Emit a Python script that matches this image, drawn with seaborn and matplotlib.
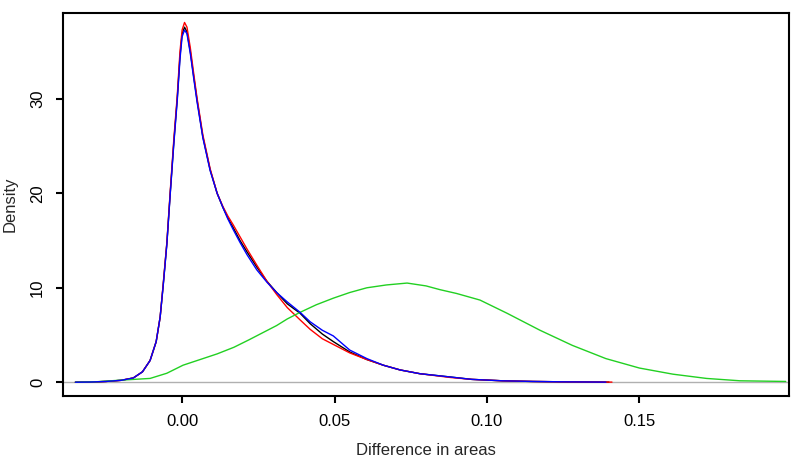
import pandas as pd
import matplotlib
matplotlib.use("Agg")
import matplotlib.pyplot as plt
import seaborn as sns

# density curves (x = difference in areas, y = density)
x_black = [-0.035, -0.030, -0.025, -0.020, -0.016, -0.013, -0.0105, -0.0085, -0.0072, -0.0062,
           -0.005, -0.0039, -0.0027, -0.0016, -0.0007, 0.0, 0.0008, 0.0016, 0.0027, 0.0038,
           0.0049, 0.0068, 0.0092, 0.0115, 0.0134, 0.0150, 0.0167, 0.019, 0.0213, 0.0245,
           0.0278, 0.031, 0.0345, 0.0387, 0.042, 0.046, 0.0496, 0.055, 0.0606, 0.066,
           0.0715, 0.078, 0.088, 0.095, 0.105, 0.115, 0.125, 0.140]
y_black = [0.0, 0.02, 0.08, 0.2, 0.45, 1.1, 2.3, 4.3, 6.9, 10.3,
           14.7, 20.0, 25.5, 30.0, 34.5, 36.9, 37.6, 37.1, 35.0, 32.4,
           29.9, 26.0, 22.5, 20.0, 18.5, 17.4, 16.4, 15.0, 13.8, 12.2,
           10.7, 9.5, 8.3, 7.3, 6.2, 5.1, 4.3, 3.2, 2.4, 1.8,
           1.3, 0.9, 0.55, 0.3, 0.15, 0.08, 0.04, 0.01]

x_red = [-0.035, -0.030, -0.025, -0.020, -0.016, -0.013, -0.0105, -0.0085, -0.0072, -0.0062,
         -0.005, -0.0039, -0.0027, -0.0016, -0.0007, 0.0, 0.0008, 0.0016, 0.0027, 0.0038,
         0.0049, 0.0068, 0.0092, 0.0115, 0.0134, 0.0150, 0.0167, 0.019, 0.0213, 0.0245,
         0.0278, 0.031, 0.0345, 0.0387, 0.042, 0.046, 0.0496, 0.055, 0.0606, 0.066,
         0.0715, 0.078, 0.088, 0.095, 0.105, 0.115, 0.125, 0.141]
y_red = [0.0, 0.02, 0.08, 0.2, 0.45, 1.1, 2.3, 4.3, 6.9, 10.4,
         14.8, 20.2, 25.8, 30.3, 35.0, 37.3, 38.1, 37.6, 35.4, 32.7,
         30.1, 26.2, 22.6, 20.0, 18.6, 17.6, 16.7, 15.4, 14.1, 12.4,
         10.7, 9.3, 7.9, 6.6, 5.6, 4.6, 4.0, 3.1, 2.4, 1.8,
         1.3, 0.9, 0.5, 0.3, 0.15, 0.08, 0.04, 0.01]

x_blue = [-0.035, -0.030, -0.025, -0.020, -0.016, -0.013, -0.0105, -0.0085, -0.0072, -0.0062,
          -0.005, -0.0039, -0.0027, -0.0016, -0.0007, 0.0, 0.0008, 0.0016, 0.0027, 0.0038,
          0.0049, 0.0068, 0.0092, 0.0115, 0.0134, 0.0150, 0.0167, 0.019, 0.0213, 0.0245,
          0.0278, 0.031, 0.0345, 0.0387, 0.042, 0.046, 0.0496, 0.055, 0.0606, 0.066,
          0.0715, 0.078, 0.088, 0.095, 0.105, 0.115, 0.125, 0.139]
y_blue = [0.0, 0.02, 0.08, 0.2, 0.45, 1.1, 2.3, 4.3, 6.9, 10.2,
          14.6, 19.9, 25.3, 29.8, 34.2, 36.6, 37.3, 36.9, 34.8, 32.2,
          29.7, 25.9, 22.4, 20.0, 18.5, 17.3, 16.2, 14.8, 13.5, 11.9,
          10.6, 9.5, 8.5, 7.4, 6.4, 5.5, 4.9, 3.4, 2.5, 1.8,
          1.3, 0.9, 0.55, 0.3, 0.15, 0.08, 0.04, 0.01]

x_green = [-0.035, -0.028, -0.021, -0.0105, -0.005, 0.0003, 0.0059, 0.0115, 0.017, 0.022,
           0.028, 0.031, 0.0345, 0.0387, 0.044, 0.0496, 0.055, 0.0606, 0.067, 0.0738,
           0.080, 0.0846, 0.090, 0.0977, 0.1066, 0.1174, 0.128, 0.139, 0.150, 0.161,
           0.172, 0.183, 0.198]
y_green = [0.0, 0.05, 0.2, 0.4, 0.95, 1.8, 2.4, 3.0, 3.7, 4.5,
           5.5, 6.0, 6.7, 7.4, 8.2, 8.9, 9.5, 10.0, 10.3, 10.5,
           10.2, 9.8, 9.4, 8.7, 7.3, 5.5, 3.9, 2.5, 1.5, 0.85,
           0.4, 0.15, 0.08]

curves = [
    (x_black, y_black, "black"),
    (x_red, y_red, "#FF0000"),
    (x_green, y_green, "#22D022"),
    (x_blue, y_blue, "#0000FF"),
]

sns.set_style("ticks")
plt.rcParams["font.family"] = ["Liberation Sans", "DejaVu Sans"]

fig = plt.figure(figsize=(8, 4.65), dpi=100)
ax = fig.add_axes([0.079, 0.148, 0.907, 0.824])

ax.axhline(0, color="#B0B0B0", lw=1.0, zorder=1)
for xs, ys, col in curves:
    df = pd.DataFrame({"x": xs, "y": ys})
    sns.lineplot(data=df, x="x", y="y", color=col, lw=1.0, estimator=None, ax=ax, zorder=2)

ax.set_xlim(-0.039, 0.199)
ax.set_ylim(-1.48, 39.1)
ax.set_xticks([0.0, 0.05, 0.10, 0.15])
ax.set_xticklabels(["0.00", "0.05", "0.10", "0.15"])
ax.set_yticks([0, 10, 20, 30])
ax.set_yticklabels(["0", "10", "20", "30"], rotation=90, va="center")

for sp in ax.spines.values():
    sp.set_visible(True)
    sp.set_linewidth(1.5)
    sp.set_color("black")
ax.tick_params(length=5, width=1.5, pad=8, labelsize=12, colors="black")

ax.set_xlabel("Difference in areas", fontsize=12, labelpad=10)
ax.set_ylabel("Density", fontsize=12, labelpad=9)

fig.savefig("out.png", dpi=100)
